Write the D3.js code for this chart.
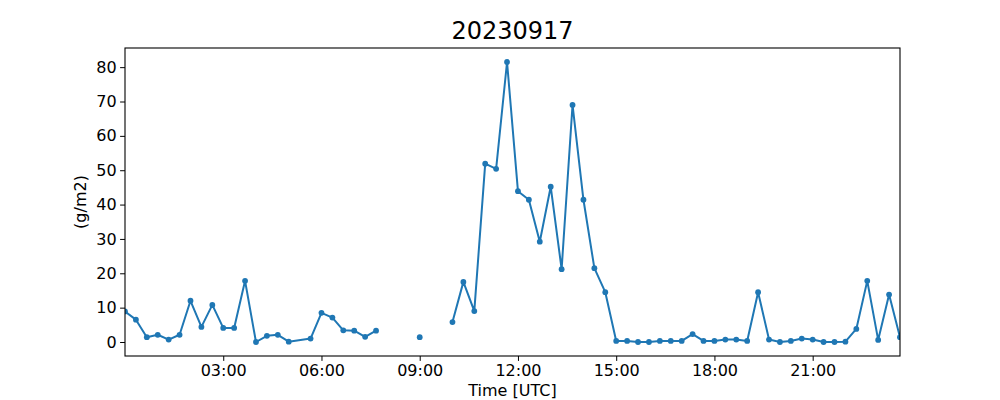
<!DOCTYPE html>
<html>
<head>
<meta charset="utf-8">
<script src="https://cdn.jsdelivr.net/npm/d3@7"></script>
<style>
  body { margin: 0; background: #fff; }
  text { font-family: "DejaVu Sans", sans-serif; fill: #000; }
</style>
</head>
<body>
<script>
const width = 1000;
const height = 400;
const marginTop = 48;
const marginRight = 100;
const marginBottom = 44;
const marginLeft = 125;

const title = "20230917";

// 20-minute samples; null = missing value (gap in the line)
const times = [
  "00:00","00:20","00:40","01:00","01:20","01:40","02:00","02:20","02:40",
  "03:00","03:20","03:40","04:00","04:20","04:40","05:00","05:40",
  "06:00","06:20","06:40","07:00","07:20","07:40","08:00","08:20","08:40",
  "09:00","09:20","09:40","10:00","10:20","10:40","11:00","11:20","11:40",
  "12:00","12:20","12:40","13:00","13:20","13:40","14:00","14:20","14:40",
  "15:00","15:20","15:40","16:00","16:20","16:40","17:00","17:20","17:40",
  "18:00","18:20","18:40","19:00","19:20","19:40","20:00","20:20","20:40",
  "21:00","21:20","21:40","22:00","22:20","22:40","23:00","23:20","23:40"
];
const values = [
  8.9, 6.5, 1.4, 2.1, 0.7, 2.1, 12.0, 4.4, 10.8,
  4.1, 4.1, 17.8, 0.0, 1.8, 2.1, 0.1, 1.0,
  8.5, 7.1, 3.4, 3.3, 1.5, 3.3, null, null, null,
  1.4, null, null, 5.8, 17.5, 9.0, 51.9, 50.4, 81.5,
  43.9, 41.4, 29.2, 45.2, 21.2, 69.0, 41.4, 21.5, 14.5,
  0.3, 0.3, 0.0, 0.0, 0.3, 0.3, 0.3, 2.3, 0.3,
  0.3, 0.7, 0.7, 0.3, 14.5, 0.7, 0.0, 0.3, 1.0,
  0.7, 0.0, 0.0, 0.1, 3.8, 17.8, 0.6, 13.8, 1.4
];
const xTickLabels = ["03:00","06:00","09:00","12:00","15:00","18:00","21:00"];
const yTicks = [0, 10, 20, 30, 40, 50, 60, 70, 80];

const parse = d3.utcParse("%Y-%m-%d %H:%M");
const day = "2023-09-17 ";
const data = times.map((t, i) => ({ t: parse(day + t), v: values[i] }));

const svg = d3.select("body").append("svg")
  .attr("width", width)
  .attr("height", height);

const x = d3.scaleUtc()
  .domain(d3.extent(data, d => d.t))
  .range([marginLeft, width - marginRight]);

const vMin = d3.min(values.filter(v => v != null));
const vMax = d3.max(values.filter(v => v != null));
const pad = (vMax - vMin) * 0.05;
const y = d3.scaleLinear()
  .domain([vMin - pad, vMax + pad])
  .range([height - marginBottom, marginTop]);

svg.append("clipPath").attr("id", "clip")
  .append("rect")
  .attr("x", marginLeft).attr("y", marginTop)
  .attr("width", width - marginLeft - marginRight)
  .attr("height", height - marginTop - marginBottom);

const plot = svg.append("g").attr("clip-path", "url(#clip)");

const line = d3.line()
  .defined(d => d.v != null)
  .x(d => x(d.t))
  .y(d => y(d.v));

plot.append("path")
  .datum(data)
  .attr("fill", "none")
  .attr("stroke", "#1f77b4")
  .attr("stroke-width", 2)
  .attr("stroke-linejoin", "round")
  .attr("d", line);

plot.selectAll("circle")
  .data(data.filter(d => d.v != null))
  .join("circle")
  .attr("cx", d => x(d.t))
  .attr("cy", d => y(d.v))
  .attr("r", 2.9)
  .attr("fill", "#1f77b4");

// axes
const xAxis = d3.axisBottom(x)
  .tickValues(xTickLabels.map(t => parse(day + t)))
  .tickFormat(d3.utcFormat("%H:%M"))
  .tickSizeOuter(0)
  .tickSize(4.9)
  .tickPadding(3.5);

const gx = svg.append("g")
  .attr("transform", `translate(0,${height - marginBottom})`)
  .call(xAxis);

const yAxis = d3.axisLeft(y)
  .tickValues(yTicks)
  .tickSizeOuter(0)
  .tickSize(4.9)
  .tickPadding(3.5);

const gy = svg.append("g")
  .attr("transform", `translate(${marginLeft},0)`)
  .call(yAxis);

[gx, gy].forEach(g => {
  g.select(".domain").remove();
  g.selectAll("line").attr("stroke", "#000").attr("stroke-width", 1);
  g.selectAll("text").attr("font-size", "16px").attr("font-family", "DejaVu Sans");
});

// frame
svg.append("rect")
  .attr("x", marginLeft).attr("y", marginTop)
  .attr("width", width - marginLeft - marginRight)
  .attr("height", height - marginTop - marginBottom)
  .attr("fill", "none")
  .attr("stroke", "#000")
  .attr("stroke-width", 1.1);

svg.append("text")
  .attr("x", (marginLeft + width - marginRight) / 2)
  .attr("y", 39)
  .attr("text-anchor", "middle")
  .attr("font-size", "24px")
  .text(title);

svg.append("text")
  .attr("x", (marginLeft + width - marginRight) / 2)
  .attr("y", 396)
  .attr("text-anchor", "middle")
  .attr("font-size", "16px")
  .text("Time [UTC]");

svg.append("text")
  .attr("transform", `translate(86,${(marginTop + height - marginBottom) / 2}) rotate(-90)`)
  .attr("text-anchor", "middle")
  .attr("font-size", "16px")
  .text("(g/m2)");
</script>
</body>
</html>
